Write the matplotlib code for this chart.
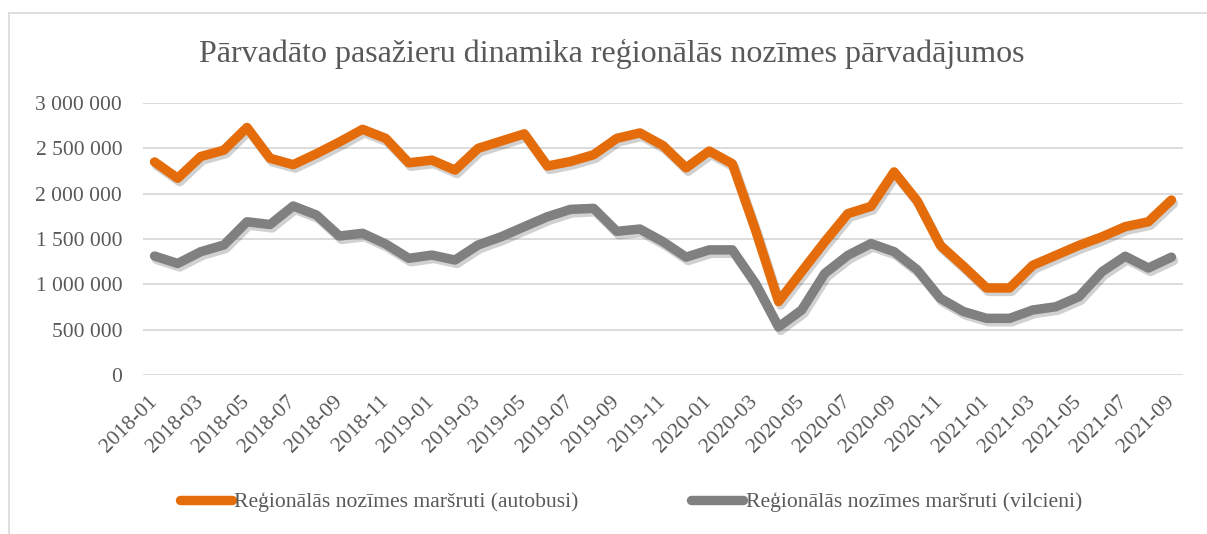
import matplotlib
matplotlib.use("Agg")
import matplotlib.pyplot as plt
import matplotlib.patheffects as pe
import matplotlib.transforms as mtransforms
from matplotlib.ticker import FuncFormatter
from matplotlib.lines import Line2D

months = [f"{y}-{m:02d}" for y in (2018, 2019, 2020, 2021) for m in range(1, 13)][:45]

bus = [2350000, 2170000, 2410000, 2480000, 2730000, 2390000, 2320000, 2440000,
       2570000, 2710000, 2610000, 2340000, 2370000, 2260000, 2500000, 2580000,
       2660000, 2305000, 2355000, 2430000, 2610000, 2670000, 2530000, 2285000,
       2470000, 2330000, 1600000, 810000, 1140000, 1470000, 1780000, 1860000,
       2240000, 1920000, 1430000, 1200000, 960000, 960000, 1210000, 1320000,
       1430000, 1525000, 1636000, 1690000, 1930000]

train = [1312000, 1230000, 1360000, 1434000, 1690000, 1660000, 1864000, 1765000,
         1533000, 1563000, 1445000, 1287000, 1323000, 1268000, 1434000, 1525000,
         1636000, 1746000, 1827000, 1838000, 1585000, 1610000, 1470000, 1300000,
         1380000, 1380000, 1010000, 530000, 717000, 1120000, 1320000, 1450000,
         1360000, 1160000, 846000, 700000, 625000, 625000, 717000, 753000,
         864000, 1140000, 1310000, 1180000, 1300000]

title = "Pārvadāto pasažieru dinamika reģionālās nozīmes pārvadājumos"
label_bus = "Reģionālās nozīmes maršruti (autobusi)"
label_train = "Reģionālās nozīmes maršruti (vilcieni)"

W, H = 1207, 534
fig = plt.figure(figsize=(W / 100, H / 100), dpi=100)
plt.rcParams['font.family'] = ['Liberation Serif', 'DejaVu Serif']
TXT = '#595959'
ORANGE = '#E46C0A'
GRAY = '#808080'
GRID = '#D9D9D9'

ax = fig.add_axes([143 / W, 1 - 375 / H, (1183 - 143) / W, (375 - 103) / H])

x = list(range(len(months)))
shadow = [pe.SimpleLineShadow(offset=(1.5, -2.5), shadow_color='black', alpha=0.18), pe.Normal()]
ax.plot(x, bus, color=ORANGE, lw=6.8, solid_joinstyle='round', solid_capstyle='round',
        path_effects=shadow, zorder=3)
ax.plot(x, train, color=GRAY, lw=6.8, solid_joinstyle='round', solid_capstyle='round',
        path_effects=shadow, zorder=3)

ax.set_xlim(-0.5, len(months) - 0.5)
ax.set_ylim(0, 3000000)
ax.set_yticks(range(0, 3000001, 500000))
ax.yaxis.set_major_formatter(FuncFormatter(lambda v, p: f"{int(v):,}".replace(",", " ")))
ax.grid(axis='y', color=GRID, lw=1.3, zorder=0)
for s in ax.spines.values():
    s.set_visible(False)

ax.set_xticks(x[::2])
ax.set_xticklabels(months[::2], rotation=45, ha='right', va='top', rotation_mode='anchor')
ax.tick_params(axis='x', length=0, pad=14, labelsize=15.5, labelcolor=TXT)
ax.tick_params(axis='y', length=0, pad=15, labelsize=15.5, labelcolor=TXT)
off = mtransforms.ScaledTranslation(-7 / 100, 2 / 100, fig.dpi_scale_trans)
for lbl in ax.get_xticklabels():
    lbl.set_transform(lbl.get_transform() + off)

fig.text(612 / W, 1 - 54 / H, title, ha='center', va='center', fontsize=23, color=TXT)

handles = [Line2D([], [], color=ORANGE, lw=6.8, solid_capstyle='round'),
           Line2D([], [], color=GRAY, lw=6.8, solid_capstyle='round')]
fig.legend(handles, [label_bus, label_train], loc='center', bbox_to_anchor=(631 / W, 1 - 502 / H),
           ncol=2, frameon=False, fontsize=15.6, labelcolor=TXT, handlelength=2.4,
           handletextpad=0.1, columnspacing=5.2)

fig.add_artist(Line2D([9 / W, 1.0], [1 - 13 / H, 1 - 13 / H], color=GRID, lw=1.2))
fig.add_artist(Line2D([9 / W, 9 / W], [1 - 13 / H, 0.0], color=GRID, lw=1.2))

fig.savefig("out.png", dpi=100, facecolor='white')
